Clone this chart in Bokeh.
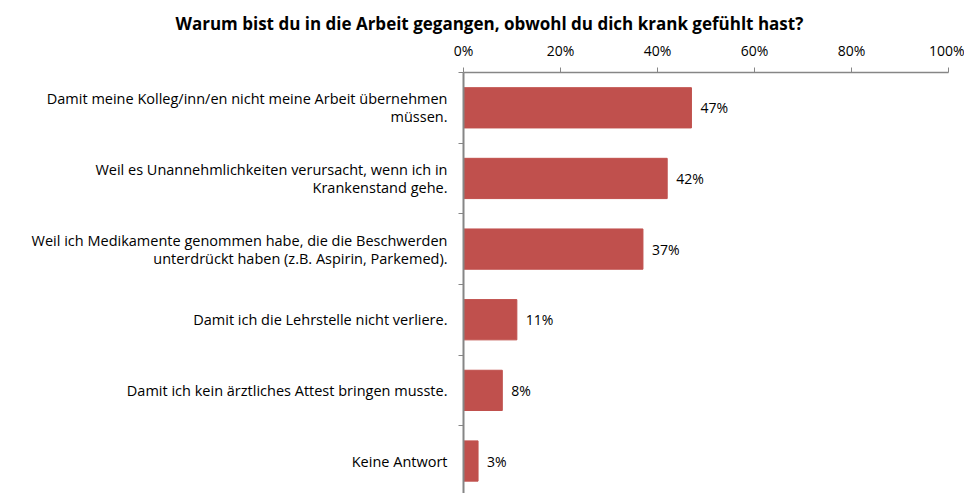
from bokeh.plotting import figure
from bokeh.models import Range1d, FixedTicker, PrintfTickFormatter, ColumnDataSource
from bokeh.core.properties import value
from bokeh.embed import file_html
from bokeh.resources import INLINE

title_text = "Warum bist du in die Arbeit gegangen, obwohl du dich krank gefühlt hast?"
categories = [
    "Damit meine Kolleg/inn/en nicht meine Arbeit übernehmen\nmüssen.",
    "Weil es Unannehmlichkeiten verursacht, wenn ich in\nKrankenstand gehe.",
    "Weil ich Medikamente genommen habe, die die Beschwerden\nunterdrückt haben (z.B. Aspirin, Parkemed).",
    "Damit ich die Lehrstelle nicht verliere.",
    "Damit ich kein ärztliches Attest bringen musste.",
    "Keine Antwort",
]
values = [47, 42, 37, 11, 8, 3]
value_labels = ["47%", "42%", "37%", "11%", "8%", "3%"]
x_ticks = [0, 20, 40, 60, 80, 100]

n = len(categories)
ys = [n - i - 0.5 for i in range(n)]
bounds = list(range(n + 1))

FONT = "Open Sans"
BAR = "#C0504D"
AXIS = "#868686"

p = figure(width=964, height=493, x_range=Range1d(0, 100), y_range=Range1d(0.04, n),
           output_backend="svg", toolbar_location=None, x_axis_location="above",
           min_border_left=463, min_border_right=16, min_border_top=72, min_border_bottom=0,
           title=title_text)
p.outline_line_color = None
p.grid.visible = False

p.title.align = "left"
p.title.offset = -288
p.title.text_font = FONT
p.title.text_font_size = "17px"
p.title.text_font_style = "bold"
p.title.text_color = "#000000"
p.title.standoff = 6

src = ColumnDataSource(dict(y=ys, v=values, lab=value_labels))
p.hbar(y="y", right="v", left=0, height=0.57, source=src, fill_color=BAR, line_color=BAR)
p.text(x="v", y="y", text="lab", source=src, x_offset=9, text_baseline="middle",
       text_font=value(FONT), text_font_size="14px", text_color="#000000")

xa = p.xaxis[0]
xa.ticker = FixedTicker(ticks=x_ticks, minor_ticks=[])
xa.formatter = PrintfTickFormatter(format="%d%%")
xa.axis_line_color = AXIS
xa.axis_line_width = 1.5
xa.major_tick_line_color = AXIS
xa.major_tick_out = 5
xa.major_tick_in = 0
xa.minor_tick_line_color = None
xa.major_label_text_font = FONT
xa.major_label_text_font_size = "14px"
xa.major_label_text_color = "#000000"
xa.major_label_standoff = 8

ya = p.yaxis[0]
ya.ticker = FixedTicker(ticks=ys, minor_ticks=bounds)
ya.major_label_overrides = {y: c for y, c in zip(ys, categories)}
ya.axis_line_color = AXIS
ya.axis_line_width = 2
ya.major_tick_line_color = None
ya.major_tick_out = 0
ya.major_tick_in = 0
ya.minor_tick_line_color = AXIS
ya.minor_tick_out = 5
ya.minor_tick_in = 0
ya.major_label_text_font = FONT
ya.major_label_text_font_size = "14.5px"
ya.major_label_text_line_height = 0.95
ya.major_label_text_color = "#000000"
ya.major_label_standoff = 11

open("out.html", "w").write(file_html(p, INLINE))
